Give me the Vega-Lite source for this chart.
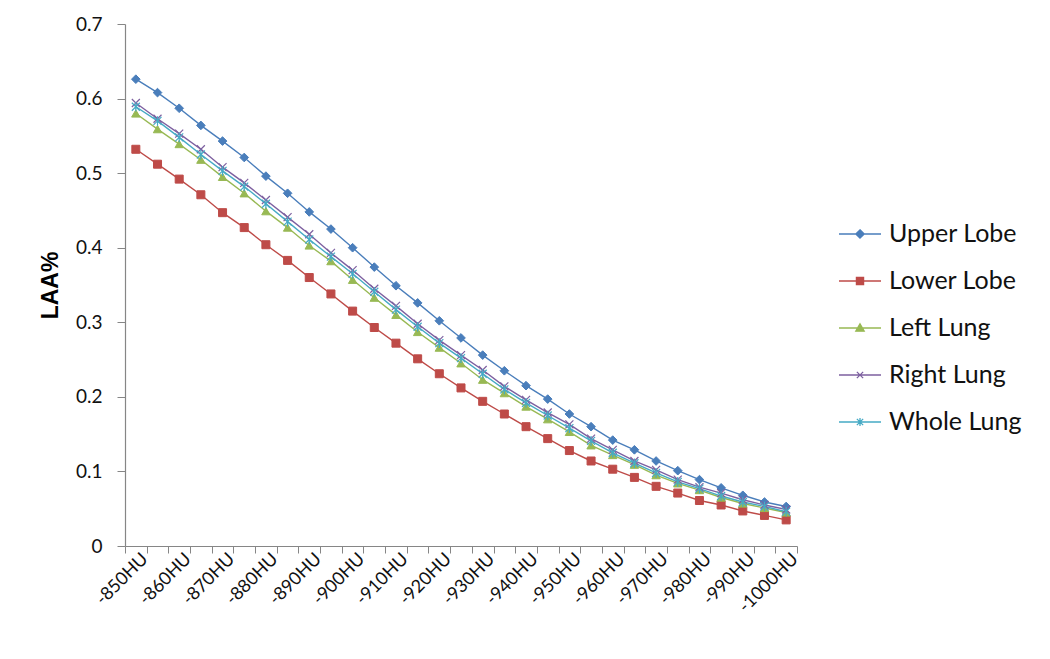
{
  "$schema": "https://vega.github.io/schema/vega-lite/v6.json",
  "width": 672,
  "height": 522,
  "autosize": {"type": "none"},
  "padding": {"left": 125, "top": 24, "right": 253, "bottom": 113},
  "background": "white",
  "config": {"view": {"stroke": null}, "font": "Lato"},
  "data": {"values": [
    {"hu": -850, "series": "Upper Lobe", "laa": 0.626}, {"hu": -855, "series": "Upper Lobe", "laa": 0.608}, {"hu": -860, "series": "Upper Lobe", "laa": 0.587}, {"hu": -865, "series": "Upper Lobe", "laa": 0.564}, {"hu": -870, "series": "Upper Lobe", "laa": 0.543}, {"hu": -875, "series": "Upper Lobe", "laa": 0.521}, {"hu": -880, "series": "Upper Lobe", "laa": 0.496}, {"hu": -885, "series": "Upper Lobe", "laa": 0.473}, {"hu": -890, "series": "Upper Lobe", "laa": 0.448}, {"hu": -895, "series": "Upper Lobe", "laa": 0.425}, {"hu": -900, "series": "Upper Lobe", "laa": 0.400}, {"hu": -905, "series": "Upper Lobe", "laa": 0.374}, {"hu": -910, "series": "Upper Lobe", "laa": 0.349}, {"hu": -915, "series": "Upper Lobe", "laa": 0.326}, {"hu": -920, "series": "Upper Lobe", "laa": 0.302}, {"hu": -925, "series": "Upper Lobe", "laa": 0.279}, {"hu": -930, "series": "Upper Lobe", "laa": 0.256}, {"hu": -935, "series": "Upper Lobe", "laa": 0.235}, {"hu": -940, "series": "Upper Lobe", "laa": 0.215}, {"hu": -945, "series": "Upper Lobe", "laa": 0.197}, {"hu": -950, "series": "Upper Lobe", "laa": 0.177}, {"hu": -955, "series": "Upper Lobe", "laa": 0.160}, {"hu": -960, "series": "Upper Lobe", "laa": 0.142}, {"hu": -965, "series": "Upper Lobe", "laa": 0.129}, {"hu": -970, "series": "Upper Lobe", "laa": 0.114}, {"hu": -975, "series": "Upper Lobe", "laa": 0.101}, {"hu": -980, "series": "Upper Lobe", "laa": 0.089}, {"hu": -985, "series": "Upper Lobe", "laa": 0.078}, {"hu": -990, "series": "Upper Lobe", "laa": 0.068}, {"hu": -995, "series": "Upper Lobe", "laa": 0.059}, {"hu": -1000, "series": "Upper Lobe", "laa": 0.053},
    {"hu": -850, "series": "Lower Lobe", "laa": 0.532}, {"hu": -855, "series": "Lower Lobe", "laa": 0.512}, {"hu": -860, "series": "Lower Lobe", "laa": 0.492}, {"hu": -865, "series": "Lower Lobe", "laa": 0.471}, {"hu": -870, "series": "Lower Lobe", "laa": 0.447}, {"hu": -875, "series": "Lower Lobe", "laa": 0.427}, {"hu": -880, "series": "Lower Lobe", "laa": 0.404}, {"hu": -885, "series": "Lower Lobe", "laa": 0.383}, {"hu": -890, "series": "Lower Lobe", "laa": 0.360}, {"hu": -895, "series": "Lower Lobe", "laa": 0.338}, {"hu": -900, "series": "Lower Lobe", "laa": 0.315}, {"hu": -905, "series": "Lower Lobe", "laa": 0.293}, {"hu": -910, "series": "Lower Lobe", "laa": 0.272}, {"hu": -915, "series": "Lower Lobe", "laa": 0.251}, {"hu": -920, "series": "Lower Lobe", "laa": 0.231}, {"hu": -925, "series": "Lower Lobe", "laa": 0.212}, {"hu": -930, "series": "Lower Lobe", "laa": 0.194}, {"hu": -935, "series": "Lower Lobe", "laa": 0.177}, {"hu": -940, "series": "Lower Lobe", "laa": 0.160}, {"hu": -945, "series": "Lower Lobe", "laa": 0.144}, {"hu": -950, "series": "Lower Lobe", "laa": 0.128}, {"hu": -955, "series": "Lower Lobe", "laa": 0.114}, {"hu": -960, "series": "Lower Lobe", "laa": 0.103}, {"hu": -965, "series": "Lower Lobe", "laa": 0.092}, {"hu": -970, "series": "Lower Lobe", "laa": 0.080}, {"hu": -975, "series": "Lower Lobe", "laa": 0.071}, {"hu": -980, "series": "Lower Lobe", "laa": 0.061}, {"hu": -985, "series": "Lower Lobe", "laa": 0.055}, {"hu": -990, "series": "Lower Lobe", "laa": 0.047}, {"hu": -995, "series": "Lower Lobe", "laa": 0.041}, {"hu": -1000, "series": "Lower Lobe", "laa": 0.035},
    {"hu": -850, "series": "Left Lung", "laa": 0.580}, {"hu": -855, "series": "Left Lung", "laa": 0.559}, {"hu": -860, "series": "Left Lung", "laa": 0.539}, {"hu": -865, "series": "Left Lung", "laa": 0.518}, {"hu": -870, "series": "Left Lung", "laa": 0.495}, {"hu": -875, "series": "Left Lung", "laa": 0.473}, {"hu": -880, "series": "Left Lung", "laa": 0.449}, {"hu": -885, "series": "Left Lung", "laa": 0.427}, {"hu": -890, "series": "Left Lung", "laa": 0.403}, {"hu": -895, "series": "Left Lung", "laa": 0.382}, {"hu": -900, "series": "Left Lung", "laa": 0.357}, {"hu": -905, "series": "Left Lung", "laa": 0.333}, {"hu": -910, "series": "Left Lung", "laa": 0.310}, {"hu": -915, "series": "Left Lung", "laa": 0.287}, {"hu": -920, "series": "Left Lung", "laa": 0.266}, {"hu": -925, "series": "Left Lung", "laa": 0.245}, {"hu": -930, "series": "Left Lung", "laa": 0.223}, {"hu": -935, "series": "Left Lung", "laa": 0.205}, {"hu": -940, "series": "Left Lung", "laa": 0.187}, {"hu": -945, "series": "Left Lung", "laa": 0.170}, {"hu": -950, "series": "Left Lung", "laa": 0.153}, {"hu": -955, "series": "Left Lung", "laa": 0.135}, {"hu": -960, "series": "Left Lung", "laa": 0.122}, {"hu": -965, "series": "Left Lung", "laa": 0.109}, {"hu": -970, "series": "Left Lung", "laa": 0.095}, {"hu": -975, "series": "Left Lung", "laa": 0.084}, {"hu": -980, "series": "Left Lung", "laa": 0.075}, {"hu": -985, "series": "Left Lung", "laa": 0.065}, {"hu": -990, "series": "Left Lung", "laa": 0.057}, {"hu": -995, "series": "Left Lung", "laa": 0.051}, {"hu": -1000, "series": "Left Lung", "laa": 0.045},
    {"hu": -850, "series": "Right Lung", "laa": 0.594}, {"hu": -855, "series": "Right Lung", "laa": 0.573}, {"hu": -860, "series": "Right Lung", "laa": 0.553}, {"hu": -865, "series": "Right Lung", "laa": 0.532}, {"hu": -870, "series": "Right Lung", "laa": 0.508}, {"hu": -875, "series": "Right Lung", "laa": 0.487}, {"hu": -880, "series": "Right Lung", "laa": 0.464}, {"hu": -885, "series": "Right Lung", "laa": 0.441}, {"hu": -890, "series": "Right Lung", "laa": 0.418}, {"hu": -895, "series": "Right Lung", "laa": 0.393}, {"hu": -900, "series": "Right Lung", "laa": 0.370}, {"hu": -905, "series": "Right Lung", "laa": 0.345}, {"hu": -910, "series": "Right Lung", "laa": 0.322}, {"hu": -915, "series": "Right Lung", "laa": 0.298}, {"hu": -920, "series": "Right Lung", "laa": 0.276}, {"hu": -925, "series": "Right Lung", "laa": 0.256}, {"hu": -930, "series": "Right Lung", "laa": 0.236}, {"hu": -935, "series": "Right Lung", "laa": 0.214}, {"hu": -940, "series": "Right Lung", "laa": 0.196}, {"hu": -945, "series": "Right Lung", "laa": 0.179}, {"hu": -950, "series": "Right Lung", "laa": 0.163}, {"hu": -955, "series": "Right Lung", "laa": 0.144}, {"hu": -960, "series": "Right Lung", "laa": 0.129}, {"hu": -965, "series": "Right Lung", "laa": 0.114}, {"hu": -970, "series": "Right Lung", "laa": 0.102}, {"hu": -975, "series": "Right Lung", "laa": 0.089}, {"hu": -980, "series": "Right Lung", "laa": 0.079}, {"hu": -985, "series": "Right Lung", "laa": 0.071}, {"hu": -990, "series": "Right Lung", "laa": 0.062}, {"hu": -995, "series": "Right Lung", "laa": 0.055}, {"hu": -1000, "series": "Right Lung", "laa": 0.049},
    {"hu": -850, "series": "Whole Lung", "laa": 0.589}, {"hu": -855, "series": "Whole Lung", "laa": 0.570}, {"hu": -860, "series": "Whole Lung", "laa": 0.548}, {"hu": -865, "series": "Whole Lung", "laa": 0.525}, {"hu": -870, "series": "Whole Lung", "laa": 0.503}, {"hu": -875, "series": "Whole Lung", "laa": 0.482}, {"hu": -880, "series": "Whole Lung", "laa": 0.459}, {"hu": -885, "series": "Whole Lung", "laa": 0.435}, {"hu": -890, "series": "Whole Lung", "laa": 0.411}, {"hu": -895, "series": "Whole Lung", "laa": 0.388}, {"hu": -900, "series": "Whole Lung", "laa": 0.365}, {"hu": -905, "series": "Whole Lung", "laa": 0.341}, {"hu": -910, "series": "Whole Lung", "laa": 0.317}, {"hu": -915, "series": "Whole Lung", "laa": 0.294}, {"hu": -920, "series": "Whole Lung", "laa": 0.272}, {"hu": -925, "series": "Whole Lung", "laa": 0.252}, {"hu": -930, "series": "Whole Lung", "laa": 0.231}, {"hu": -935, "series": "Whole Lung", "laa": 0.210}, {"hu": -940, "series": "Whole Lung", "laa": 0.192}, {"hu": -945, "series": "Whole Lung", "laa": 0.175}, {"hu": -950, "series": "Whole Lung", "laa": 0.158}, {"hu": -955, "series": "Whole Lung", "laa": 0.141}, {"hu": -960, "series": "Whole Lung", "laa": 0.125}, {"hu": -965, "series": "Whole Lung", "laa": 0.111}, {"hu": -970, "series": "Whole Lung", "laa": 0.098}, {"hu": -975, "series": "Whole Lung", "laa": 0.086}, {"hu": -980, "series": "Whole Lung", "laa": 0.077}, {"hu": -985, "series": "Whole Lung", "laa": 0.067}, {"hu": -990, "series": "Whole Lung", "laa": 0.059}, {"hu": -995, "series": "Whole Lung", "laa": 0.053}, {"hu": -1000, "series": "Whole Lung", "laa": 0.046}
  ]},
  "encoding": {
    "x": {
      "field": "hu", "type": "quantitative",
      "scale": {"domain": [-1002.5, -847.5], "reverse": true, "nice": false, "zero": false},
      "axis": {
        "title": null, "grid": false,
        "values": [-847.5, -850, -852.5, -857.5, -860, -862.5, -867.5, -870, -872.5, -877.5, -880, -882.5, -887.5, -890, -892.5, -897.5, -900, -902.5, -907.5, -910, -912.5, -917.5, -920, -922.5, -927.5, -930, -932.5, -937.5, -940, -942.5, -947.5, -950, -952.5, -957.5, -960, -962.5, -967.5, -970, -972.5, -977.5, -980, -982.5, -987.5, -990, -992.5, -997.5, -1000, -1002.5],
        "labelExpr": "datum.value % 10 == 0 ? datum.value + 'HU' : ''",
        "tickOpacity": {"condition": {"test": "datum.value % 5 == 0", "value": 0}, "value": 1},
        "labelAngle": -45, "labelAlign": "right", "labelBaseline": "middle",
        "labelFontSize": 18, "labelColor": "#111", "labelPadding": 3, "labelOffset": 9,
        "labelOverlap": false, "labelFlush": false, "labelBound": false,
        "domainColor": "#868686", "tickColor": "#868686", "tickSize": 7, "domainWidth": 1.2
      }
    },
    "y": {
      "field": "laa", "type": "quantitative",
      "scale": {"domain": [0, 0.7], "nice": false},
      "axis": {
        "title": "LAA%", "titleFont": "Liberation Sans", "titleFontSize": 23, "titleFontWeight": "bold", "titleColor": "#000", "titlePadding": 13,
        "values": [0, 0.1, 0.2, 0.3, 0.4, 0.5, 0.6, 0.7], "format": ".1~f",
        "grid": false, "labelFontSize": 19, "labelColor": "#111", "labelPadding": 15,
        "domainColor": "#868686", "tickColor": "#868686", "tickSize": 8, "domainWidth": 1.2
      }
    },
    "color": {
      "field": "series", "type": "nominal",
      "scale": {"domain": ["Upper Lobe", "Lower Lobe", "Left Lung", "Right Lung", "Whole Lung"], "range": ["#4A7EBB", "#BE4B48", "#98B954", "#7D60A0", "#46AAC5"]},
      "legend": {
        "title": null, "orient": "none", "legendX": 713, "legendY": 188,
        "symbolSize": 1764, "labelFontSize": 25, "labelColor": "#111", "labelOffset": 7, "rowPadding": 12, "padding": 0,
        "encode": {
          "symbols": {"update": {
            "shape": {"signal": "datum.value == 'Upper Lobe' ? 'M-1,0L1,0M0,-0.2L0.2,0L0,0.2L-0.2,0Z' : datum.value == 'Lower Lobe' ? 'M-1,0L1,0M-0.17,-0.17L0.17,-0.17L0.17,0.17L-0.17,0.17Z' : datum.value == 'Left Lung' ? 'M-1,0L1,0M0,-0.2L0.2,0.15L-0.2,0.15Z' : datum.value == 'Right Lung' ? 'M-1,0L1,0M-0.15,-0.15L0.15,0.15M-0.15,0.15L0.15,-0.15' : 'M-1,0L1,0M-0.15,-0.15L0.15,0.15M-0.15,0.15L0.15,-0.15M0,-0.19L0,0.19'"},
            "fill": {"scale": "color", "field": "value"},
            "stroke": {"scale": "color", "field": "value"},
            "strokeWidth": {"value": 1.3},
            "opacity": {"value": 1},
            "fillOpacity": {"value": 1},
            "strokeOpacity": {"value": 1}
          }}
        }
      }
    }
  },
  "layer": [
    {"mark": {"type": "line", "strokeWidth": 1.4}},
    {"transform": [{"filter": "datum.series == 'Upper Lobe'"}], "mark": {"type": "point", "shape": "diamond", "filled": true, "opacity": 1, "size": 75, "stroke": "#4A7EBB", "strokeWidth": 1}},
    {"transform": [{"filter": "datum.series == 'Lower Lobe'"}], "mark": {"type": "point", "shape": "square", "filled": true, "opacity": 1, "size": 64, "stroke": "#BE4B48", "strokeWidth": 1}},
    {"transform": [{"filter": "datum.series == 'Left Lung'"}], "mark": {"type": "point", "shape": "triangle-up", "filled": true, "opacity": 1, "size": 70, "stroke": "#98B954", "strokeWidth": 1}},
    {"transform": [{"filter": "datum.series == 'Right Lung'"}], "mark": {"type": "point", "shape": "M-1,-1L1,1M-1,1L1,-1", "filled": true, "opacity": 1, "size": 64, "stroke": "#7D60A0", "strokeWidth": 1.2}},
    {"transform": [{"filter": "datum.series == 'Whole Lung'"}], "mark": {"type": "point", "shape": "M-1,-1L1,1M-1,1L1,-1M0,-1.2L0,1.2", "filled": true, "opacity": 1, "size": 64, "stroke": "#46AAC5", "strokeWidth": 1.2}}
  ]
}
